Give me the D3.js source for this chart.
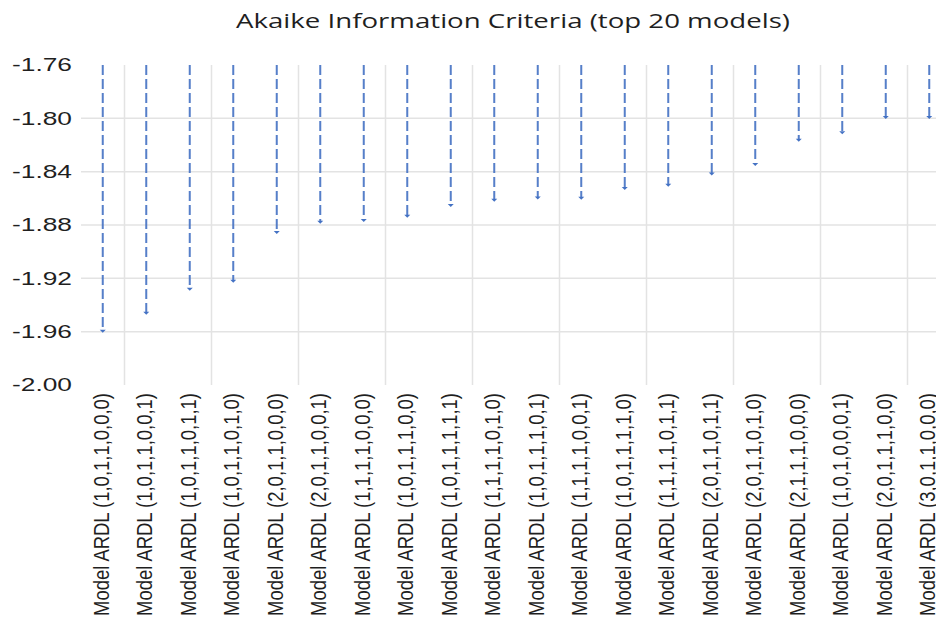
<!DOCTYPE html>
<html>
<head>
<meta charset="utf-8">
<script src="https://cdn.jsdelivr.net/npm/d3@7"></script>
<style>
  body { margin: 0; background: #fff; }
  svg { display: block; }
</style>
</head>
<body>
<svg id="chart" width="936" height="626"></svg>
<script>
// top 20 models and their AIC
let models = [
  "Model ARDL (1,0,1,1,0,0,0)", "Model ARDL (1,0,1,1,0,0,1)", "Model ARDL (1,0,1,1,0,1,1)",
  "Model ARDL (1,0,1,1,0,1,0)", "Model ARDL (2,0,1,1,0,0,0)", "Model ARDL (2,0,1,1,0,0,1)",
  "Model ARDL (1,1,1,1,0,0,0)", "Model ARDL (1,0,1,1,1,0,0)", "Model ARDL (1,0,1,1,1,1,1)",
  "Model ARDL (1,1,1,1,0,1,0)", "Model ARDL (1,0,1,1,1,0,1)", "Model ARDL (1,1,1,1,0,0,1)",
  "Model ARDL (1,0,1,1,1,1,0)", "Model ARDL (1,1,1,1,0,1,1)", "Model ARDL (2,0,1,1,0,1,1)",
  "Model ARDL (2,0,1,1,0,1,0)", "Model ARDL (2,1,1,1,0,0,0)", "Model ARDL (1,0,1,0,0,0,1)",
  "Model ARDL (2,0,1,1,1,0,0)", "Model ARDL (3,0,1,1,0,0,0)"
]
let aic = [
  -1.9593, -1.9458, -1.9278, -1.9219, -1.8852, -1.8775, -1.8762, -1.8731, -1.8650, -1.8610,
  -1.8594, -1.8596, -1.8522, -1.8499, -1.8413, -1.8342, -1.8160, -1.8104, -1.7990, -1.7990
]
let yTicks = [-1.76, -1.80, -1.84, -1.88, -1.92, -1.96, -2.00]
let yGrid = [-1.80, -1.84, -1.88, -1.92, -1.96]
let title = "Akaike Information Criteria (top 20 models)"

let margin = {top: 65, left: 81, bottom: 241, right: -15},
  width = 936,
  height = 626

let svg = d3.select("#chart")

let scales = {
  x: d3.scaleBand()
    .domain(models)
    .range([margin.left, width - margin.right]),
  y: d3.scaleLinear()
    .domain([-2.00, -1.76])
    .range([height - margin.bottom, margin.top])
}
let fmt = d3.formatLocale({decimal: ".", thousands: ",", grouping: [3], currency: ["", ""], minus: "-"}).format(".2f")
let cx = d => scales.x(d) + scales.x.bandwidth() / 2

// grid
let grid = svg.append("g").attr("id", "grid")
grid.selectAll("line.h")
  .data(yGrid).enter()
  .append("line")
  .attr("class", "h")
  .attr("x1", margin.left).attr("x2", width)
  .attr("y1", d => scales.y(d)).attr("y2", d => scales.y(d))
  .attr("stroke", "#e3e3e3").attr("stroke-width", 1.5)

grid.selectAll("line.v")
  .data(models.filter((d, i) => i % 2 == 1)).enter()
  .append("line")
  .attr("class", "v")
  .attr("x1", d => scales.x(d)).attr("x2", d => scales.x(d))
  .attr("y1", scales.y(-1.76)).attr("y2", scales.y(-2.00))
  .attr("stroke", "#e3e3e3").attr("stroke-width", 1.5)

// y axis
let y_axis = d3.axisLeft(scales.y)
  .tickValues(yTicks)
  .tickFormat(fmt)
  .tickSize(0)
  .tickPadding(9)
svg.append("g")
  .attr("id", "y_axis")
  .attr("transform", `translate(${margin.left}, 0)`)
  .call(y_axis)
  .call(g => g.select(".domain").remove())
  .selectAll("text")
  .attr("font-family", "Liberation Sans, Arial, sans-serif")
  .attr("font-size", 18.5)
  .attr("fill", "#1f1f1f")
  .attr("textLength", 60)
  .attr("lengthAdjust", "spacingAndGlyphs")

// x labels (glyphs stretched sideways like the original)
svg.append("g")
  .attr("id", "x_labels")
  .selectAll("text")
  .data(models).enter()
  .append("text")
  .attr("transform", d => `translate(${cx(d) + 6}, 393) rotate(-90) scale(1, 1.25)`)
  .attr("text-anchor", "end")
  .attr("font-family", "Liberation Sans, Arial, sans-serif")
  .attr("font-size", 18)
  .attr("fill", "#1f1f1f")
  .attr("textLength", 223)
  .attr("lengthAdjust", "spacingAndGlyphs")
  .text(d => d)

// drop lines
let drops = svg.append("g").attr("id", "drops")
drops.selectAll("line")
  .data(models).enter()
  .append("line")
  .attr("x1", cx).attr("x2", cx)
  .attr("y1", scales.y(-1.76))
  .attr("y2", (d, i) => scales.y(aic[i]))
  .attr("stroke", "#4472c4")
  .attr("stroke-width", 2)
  .attr("stroke-dasharray", "10,4")
  .attr("opacity", 0.9)

drops.selectAll("path")
  .data(models).enter()
  .append("path")
  .attr("d", (d, i) => {
    let x = cx(d), y = scales.y(aic[i])
    return `M${x - 3},${y - 1}L${x + 3},${y - 1}L${x},${y + 2}Z`
  })
  .attr("fill", "#4472c4")

// title
svg.append("text")
  .attr("x", 513)
  .attr("y", 28)
  .attr("text-anchor", "middle")
  .attr("font-family", "Open Sans, sans-serif")
  .attr("font-size", 20)
  .attr("fill", "#1f1f1f")
  .attr("textLength", 554)
  .attr("lengthAdjust", "spacingAndGlyphs")
  .text(title)
</script>
</body>
</html>
